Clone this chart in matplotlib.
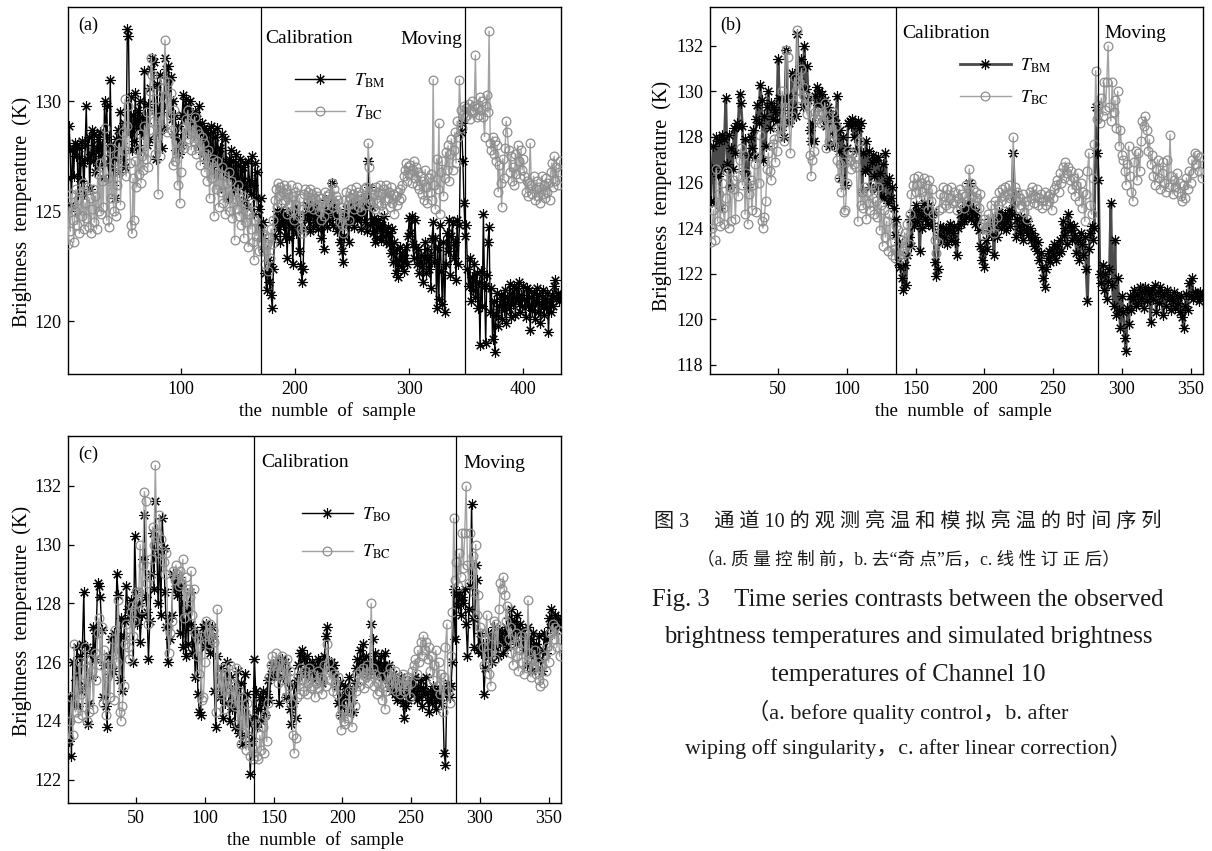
import matplotlib
matplotlib.use("Agg")
import matplotlib.pyplot as plt
import matplotlib.transforms as mtransforms
import numpy as np

plt.rcParams['font.family'] = ['Liberation Serif', 'Noto Sans CJK SC']
plt.rcParams['mathtext.fontset'] = 'stix'

# ---------------- data: channel 10 brightness temperatures (K) ----------------
# (a) before quality control: observed (T_BM) and simulated (T_BC), 432 samples
tbm_a = [
    126.5, 128.9, 127.8, 125.3, 127.9, 126.6, 128.1, 127.5, 128.0, 125.0,
    127.9, 126.4, 128.2, 127.2, 125.8, 128.0, 129.8, 127.4, 128.4, 126.0,
    127.6, 128.7, 127.3, 128.5, 126.8, 127.9, 128.3, 127.1, 128.6, 127.5,
    128.0, 126.5, 130.0, 128.4, 129.8, 127.2, 126.4, 131.0, 128.0, 126.2,
    127.8, 125.6, 128.3, 127.4, 128.7, 126.8, 129.5, 128.1, 127.4, 129.0,
    127.0, 128.6, 133.3, 133.0, 128.6, 130.2, 127.8, 129.4, 128.2, 130.4,
    127.9, 129.6, 128.8, 130.0, 127.8, 129.3, 128.5, 131.4, 129.0, 128.0,
    129.9, 128.3, 130.6, 131.5, 132.0, 131.8, 129.6, 127.4, 130.8, 128.5,
    129.6, 131.2, 127.9, 130.3, 128.8, 132.0, 131.5, 129.8, 131.6, 129.5,
    131.1, 129.2, 130.0, 128.5, 129.4, 127.8, 128.9, 127.6, 128.3, 128.0,
    129.4, 130.3, 129.2, 130.1, 128.6, 129.7, 129.1, 130.0, 128.7, 129.4,
    128.6, 129.5, 128.4, 129.2, 128.0, 129.8, 128.5, 129.0, 127.6, 128.8,
    127.9, 128.7, 127.2, 128.5, 127.5, 128.9, 127.0, 128.6, 126.8, 128.4,
    127.3, 128.8, 126.5, 127.9, 126.9, 128.5, 127.2, 126.0, 128.3, 127.0,
    125.6, 127.4, 126.6, 127.8, 125.9, 127.3, 126.2, 127.6, 126.0, 127.1,
    125.4, 127.4, 126.3, 127.0, 125.5, 127.2, 126.1, 125.2, 127.3, 126.4,
    125.8, 127.5, 126.2, 124.9, 127.2, 125.6, 126.8, 125.1, 124.3, 125.6,
    123.8, 124.5, 123.3, 122.2, 121.4, 122.8, 121.8, 122.6, 121.2, 120.6,
    122.4, 123.9, 124.6, 125.0, 124.2, 124.8, 123.6, 125.1, 124.4, 124.9,
    123.9, 124.7, 122.9, 124.5, 123.8, 125.0, 124.3, 122.6, 124.6, 125.2,
    124.0, 124.8, 123.2, 124.4, 122.5, 121.8, 122.4, 124.2, 124.9, 125.3,
    124.6, 125.1, 124.1, 124.9, 125.4, 124.3, 125.0, 124.5, 125.3, 124.2,
    124.8, 125.1, 123.8, 124.6, 123.3, 124.9, 125.5, 124.3, 125.0, 124.6,
    125.2, 126.3, 124.4, 125.4, 124.8, 125.0, 124.1, 124.9, 123.6, 124.5,
    123.2, 122.7, 123.9, 124.8, 125.1, 124.4, 123.6, 124.9, 125.3, 124.7,
    125.0, 124.3, 125.2, 124.6, 125.4, 124.8, 125.1, 124.2, 124.9, 125.3,
    124.5, 125.7, 124.1, 127.3, 126.1, 124.4, 125.2, 124.0, 124.7, 123.6,
    124.5, 123.8, 124.6, 124.2, 123.7, 124.4, 123.9, 124.8, 124.1, 123.6,
    124.3, 123.5, 124.0, 123.1, 124.2, 122.7, 123.6, 122.2, 123.3, 122.0,
    122.8, 123.4, 122.5, 123.1, 122.3, 122.9, 123.4, 122.6, 123.9, 124.7,
    124.0, 124.8, 123.5, 122.9, 124.6, 123.4, 122.6, 123.3, 122.2, 123.0,
    122.5, 121.8, 122.9, 123.6, 122.2, 123.3, 122.4, 123.0, 121.5, 123.8,
    124.5, 122.7, 123.8, 120.6, 123.4, 121.0, 124.4, 122.3, 120.8, 123.6,
    120.4, 122.6, 124.0, 123.2, 124.6, 122.1, 123.9, 124.5, 122.9, 123.6,
    121.9, 124.6, 122.6, 124.4, 128.6, 129.0, 127.3, 125.4, 123.9, 124.4,
    122.4, 121.6, 122.9, 120.9, 122.0, 121.4, 122.6, 121.1, 122.2, 120.6,
    121.8, 118.9, 122.3, 120.7, 124.9, 121.6, 119.0, 122.1, 123.6, 124.3,
    120.4, 121.5, 119.2, 120.9, 118.6, 120.3, 121.3, 119.8, 120.7, 121.2,
    120.1, 121.0, 120.5, 121.4, 119.9, 121.1, 120.6, 121.7, 120.2, 121.3,
    120.8, 121.6, 120.3, 121.5, 120.9, 121.8, 120.4, 121.2, 120.7, 121.6,
    121.0, 120.2, 121.5, 120.7, 121.4, 119.6, 121.1, 120.5, 121.3, 120.1,
    120.9, 121.5, 120.4, 121.2, 119.9, 120.8, 121.4, 120.3, 121.0, 120.6,
    121.3, 119.5, 120.9, 120.4, 121.2, 120.7, 121.6, 121.9, 121.0, 121.3,
    120.9, 121.1,
]
tbc_a = [
    123.5, 125.2, 124.1, 125.8, 124.6, 123.6, 125.0, 126.0, 124.4, 125.5,
    124.0, 125.9, 124.8, 126.3, 124.2, 125.4, 124.7, 126.1, 124.3, 125.6,
    124.0, 125.1, 126.0, 124.5, 125.7, 124.2, 126.7, 125.0, 127.2, 124.9,
    126.4, 125.2, 128.8, 127.4, 124.6, 126.5, 124.3, 127.9, 125.6, 126.8,
    125.0, 127.3, 124.8, 126.2, 127.6, 128.1, 125.3, 126.9, 128.6, 127.8,
    130.1, 126.6, 128.9, 129.8, 127.2, 124.4, 124.0, 126.5, 124.6, 127.3,
    126.1, 127.8, 126.7, 128.5, 126.3, 127.5, 126.9, 128.9, 127.4, 129.5,
    127.0, 128.7, 130.5, 132.0, 131.2, 129.1, 127.6, 130.1, 128.4, 125.8,
    129.3, 127.5, 130.6, 128.8, 131.0, 132.8, 130.2, 128.6, 130.9, 129.4,
    130.4, 128.7, 127.1, 129.6, 127.3, 128.2, 126.2, 127.8, 125.4, 126.8,
    128.0, 128.8, 127.9, 129.2, 128.5, 129.6, 128.3, 129.0, 127.8, 128.9,
    128.2, 129.3, 127.6, 128.7, 127.9, 128.5, 127.1, 128.4, 127.5, 128.1,
    126.8, 127.6, 126.4, 127.8, 125.6, 127.2, 126.5, 127.4, 124.8, 126.9,
    126.0, 127.3, 125.2, 126.7, 125.9, 127.0, 125.4, 126.6, 124.9, 126.3,
    125.6, 126.8, 125.0, 126.4, 124.7, 125.8, 123.7, 125.9, 125.1, 126.2,
    124.8, 125.6, 124.4, 125.7, 123.8, 125.3, 124.5, 125.0, 123.4, 124.9,
    124.2, 125.4, 123.6, 122.8, 124.6, 123.9, 124.8, 123.2, 124.3, 123.6,
    124.0, 123.2, 123.9, 122.6, 123.5, 122.3, 123.8, 122.9, 124.2, 123.5,
    124.6, 125.5, 126.0, 125.2, 126.3, 125.7, 126.1, 125.4, 125.9, 126.2,
    125.5, 126.0, 124.9, 125.8, 125.3, 126.2, 125.0, 125.7, 124.6, 125.9,
    125.3, 126.1, 124.8, 125.6, 124.2, 124.0, 125.1, 125.8, 126.0, 125.4,
    125.9, 125.2, 126.0, 125.5, 125.8, 125.1, 125.6, 125.9, 125.3, 125.7,
    125.0, 125.6, 124.6, 125.4, 124.8, 125.9, 125.3, 125.7, 125.1, 125.8,
    125.5, 126.3, 125.2, 126.0, 125.4, 125.7, 124.9, 125.5, 124.5, 125.2,
    124.4, 124.0, 124.8, 125.5, 125.9, 125.3, 124.6, 125.6, 126.0, 125.4,
    125.8, 125.1, 126.1, 125.5, 125.9, 125.2, 125.7, 125.0, 125.6, 126.0,
    125.3, 126.1, 125.6, 128.1, 127.0, 125.4, 126.0, 125.2, 125.8, 125.1,
    126.1, 125.4, 125.9, 126.2, 125.3, 125.8, 125.0, 126.0, 125.5, 126.2,
    125.6, 125.9, 125.2, 126.1, 125.4, 125.8, 124.9, 125.7, 125.3, 125.9,
    125.5, 126.0, 125.6, 126.2, 126.6, 126.9, 127.2, 126.4, 127.0, 126.7,
    127.1, 126.3, 126.9, 127.3, 126.5, 127.0, 126.2, 126.8, 126.0, 126.6,
    125.8, 126.4, 125.5, 126.9, 126.1, 125.4, 126.5, 125.9, 126.7, 125.5,
    131.0, 126.2, 125.1, 127.4, 126.0, 129.0, 124.9, 126.8, 127.3, 125.7,
    126.5, 127.7, 126.9, 128.0, 126.4, 127.6, 128.3, 126.9, 127.8, 128.6,
    127.2, 129.1, 128.4, 131.0, 129.6, 128.8, 129.4, 129.8, 129.3, 129.7,
    129.4, 129.9, 129.2, 129.6, 130.0, 129.5, 129.8, 132.1, 129.3, 129.7,
    129.4, 130.2, 129.6, 130.0, 129.3, 128.4, 129.8, 130.3, 129.5, 133.2,
    128.1, 127.8, 128.4, 127.6, 128.2, 127.3, 128.0, 125.9, 127.1, 126.3,
    125.2, 127.4, 126.5, 127.9, 129.1, 128.6, 127.8, 126.8, 127.5, 126.4,
    127.0, 126.2, 127.6, 126.7, 128.0, 127.3, 126.5, 127.8, 126.9, 127.4,
    126.6, 125.9, 126.4, 125.7, 126.3, 128.1, 126.2, 125.8, 126.6, 125.5,
    126.0, 126.4, 125.7, 126.1, 125.4, 126.6, 125.8, 126.2, 125.6, 126.5,
    125.9, 126.3, 125.5, 126.8, 127.2, 126.1, 127.5, 126.4, 127.0, 126.2,
    126.8, 127.3,
]

# (b) after removing singular points: observed T_BM, 358 samples
tbm_b = [
    125.2, 126.6, 127.6, 125.1, 128.0, 126.3, 127.8, 124.9, 128.1, 126.6,
    127.9, 129.7, 126.8, 128.1, 125.8, 127.5, 126.6, 128.4, 127.3, 128.6,
    128.5, 129.9, 129.5, 128.5, 126.5, 127.9, 126.3, 125.8, 127.2, 128.0,
    127.5, 128.3, 127.1, 128.8, 129.4, 128.6, 130.3, 129.6, 127.0, 128.9,
    127.6, 129.3, 130.0, 128.4, 129.5, 128.8, 129.3, 129.1, 128.7, 131.4,
    129.7, 128.3, 129.2, 128.0, 129.6, 131.8, 129.8, 128.6, 128.8, 130.8,
    129.3, 130.6, 128.9, 132.5, 131.0, 130.4, 131.4, 129.3, 132.0, 130.1,
    131.1, 129.6, 128.3, 127.8, 128.6, 127.8, 129.8, 130.2, 129.4, 130.0,
    129.5, 129.9, 128.8, 129.6, 128.5, 129.3, 127.6, 129.0, 128.2, 128.9,
    127.7, 128.6, 129.8, 127.4, 128.3, 126.2, 128.0, 127.0, 125.9, 127.5,
    128.6, 128.7, 128.5, 128.8, 128.0, 128.6, 127.4, 128.7, 128.4, 128.6,
    125.6, 127.3, 126.5, 127.8, 126.6, 127.4, 125.8, 126.9, 127.2, 126.3,
    127.0, 125.7, 127.1, 126.4, 125.4, 126.8, 125.3, 127.3, 126.0, 125.1,
    126.2, 125.3, 125.8, 124.9, 123.7, 124.4, 122.5, 123.4, 122.3, 121.8,
    121.3, 122.4, 121.5, 122.8, 123.6, 124.4, 123.2, 124.7, 124.1, 125.0,
    124.3, 124.8, 123.0, 124.6, 124.0, 125.1, 124.4, 124.8, 124.2, 125.0,
    124.5, 124.1, 124.7, 122.5, 121.9, 122.2, 123.7, 124.1, 123.4, 124.0,
    123.6, 124.0, 123.3, 123.9, 124.2, 123.5, 123.8, 124.1, 123.4, 122.8,
    124.0, 124.6, 124.2, 124.8, 124.3, 125.0, 124.5, 124.9, 126.0, 124.4,
    124.7, 124.9, 124.2, 124.7, 124.4, 123.9, 123.2, 122.6, 123.0, 122.3,
    123.5, 123.1, 124.0, 124.4, 123.7, 124.2, 122.8, 124.5, 123.6, 124.3,
    124.7, 124.0, 124.5, 124.2, 124.6, 123.9, 124.4, 124.8, 124.1, 124.6,
    127.3, 125.5, 123.6, 124.4, 124.1, 123.8, 124.5, 123.5, 124.2, 123.9,
    124.3, 123.7, 124.0, 123.5, 123.8, 123.2, 123.6, 123.0, 123.4, 122.6,
    122.9, 122.3, 121.8, 121.4, 122.2, 122.7, 123.0, 122.5, 123.1, 122.8,
    123.3, 122.6, 123.2, 122.9, 123.5, 123.0, 124.3, 123.7, 124.0, 123.3,
    124.6, 124.2, 123.9, 123.5, 124.1, 123.7, 122.9, 123.5, 122.6, 123.8,
    123.3, 122.8, 123.6, 122.2, 120.8, 123.1, 123.8, 124.1, 123.5, 124.0,
    129.3, 127.3, 126.1, 122.0, 121.6, 122.4, 121.3, 122.0, 120.9, 121.7,
    122.2, 125.1, 121.5, 120.6, 123.5, 120.2, 121.8, 120.4, 119.6, 121.0,
    120.3, 119.2, 118.6, 120.5, 119.8, 121.0, 120.4, 120.9, 121.3, 120.6,
    121.1, 120.7, 121.4, 120.9, 121.2, 120.5, 121.4, 120.8, 121.3, 121.1,
    119.9, 121.3, 120.9, 121.5, 120.3, 121.2, 120.7, 121.4, 121.0, 120.2,
    121.1, 120.6, 121.3, 120.9, 121.0, 120.4, 120.8, 121.2, 120.5, 121.0,
    120.7, 120.3, 121.0, 120.1, 119.6, 120.6, 121.1, 120.4, 121.6, 121.0,
    121.8, 120.9, 121.2, 121.1, 121.0, 120.8, 121.2, 121.0,
]

# (b) and (c) simulated T_BC, 358 samples
tbc_bc = [
    123.4, 124.0, 124.8, 123.5, 126.6, 124.3, 125.5, 124.1, 126.0, 124.9,
    124.2, 125.3, 126.5, 124.0, 125.8, 124.3, 126.1, 125.7, 124.4, 126.3,
    125.4, 127.0, 127.5, 125.9, 127.2, 124.6, 126.4, 124.2, 125.5, 126.1,
    124.8, 125.9, 126.8, 124.7, 127.1, 126.0, 128.1, 124.3, 124.0, 124.5,
    125.2, 126.6, 127.3, 126.5, 126.1, 127.7, 127.9, 126.9, 127.4, 128.4,
    128.0, 128.4, 130.0, 127.8, 129.3, 131.8, 131.5, 128.7, 127.3, 128.9,
    129.5, 130.6, 130.0, 132.7, 130.4, 129.7, 131.0, 130.2, 129.8, 129.4,
    129.0, 129.7, 127.2, 126.3, 127.0, 127.4, 129.1, 128.8, 129.3, 129.0,
    128.6, 129.1, 128.7, 129.5, 127.5, 128.9, 127.8, 128.5, 128.2, 129.1,
    127.6, 128.5, 127.0, 126.2, 126.8, 125.6, 126.9, 124.7, 124.8, 126.0,
    127.4, 127.0, 126.6, 127.3, 126.8, 127.1, 126.7, 124.3, 127.8, 125.0,
    125.6, 124.9, 125.8, 124.4, 125.6, 125.1, 124.8, 125.9, 125.3, 124.6,
    125.2, 124.5, 125.8, 123.9, 125.0, 123.2, 124.8, 123.6, 124.3, 123.0,
    124.6, 123.4, 122.8, 123.1, 122.7, 124.1, 123.9, 122.8, 122.7, 123.5,
    123.0, 123.8, 122.9, 124.2, 123.3, 124.6, 125.5, 125.9, 126.2, 125.6,
    125.9, 126.3, 125.3, 126.0, 125.6, 126.2, 125.4, 125.9, 124.8, 126.1,
    125.2, 125.7, 124.6, 123.5, 122.9, 123.4, 124.8, 125.5, 124.9, 125.8,
    125.4, 125.0, 125.7, 124.9, 125.3, 125.8, 125.1, 125.6, 125.2, 124.8,
    125.3, 125.7, 125.1, 125.5, 124.9, 125.4, 125.9, 125.2, 126.6, 126.0,
    125.4, 125.7, 125.0, 125.6, 125.3, 124.9, 125.5, 124.2, 123.7, 124.4,
    124.0, 123.9, 124.6, 124.1, 125.0, 124.3, 123.8, 125.2, 124.5, 125.0,
    125.6, 125.2, 125.7, 125.4, 125.8, 125.1, 125.5, 125.9, 125.3, 125.6,
    128.0, 125.8, 125.2, 125.6, 124.9, 125.3, 125.0, 125.5, 124.7, 125.2,
    124.4, 125.0, 125.6, 125.3, 125.8, 125.1, 125.4, 125.7, 125.0, 125.3,
    125.5, 124.9, 125.2, 125.6, 125.0, 125.4, 125.2, 125.5, 124.8, 125.3,
    125.7, 125.9, 126.1, 125.6, 126.4, 126.0, 126.7, 126.2, 126.9, 126.4,
    126.7, 126.1, 126.5, 125.7, 126.2, 125.4, 125.9, 126.4, 125.2, 126.0,
    124.9, 125.6, 124.3, 125.5, 126.5, 127.3, 125.0, 124.6, 126.2, 127.7,
    130.9, 128.8, 129.4, 128.6, 129.7, 128.9, 130.4, 129.2, 130.4, 132.0,
    129.3, 128.7, 130.4, 129.1, 129.6, 128.4, 130.0, 127.6, 128.3, 127.2,
    127.0, 126.5, 125.9, 126.8, 127.6, 126.3, 125.6, 125.2, 126.9, 127.4,
    126.1, 127.3, 126.5, 127.8, 128.7, 128.5, 128.9, 128.3, 127.4, 127.9,
    126.8, 127.2, 126.3, 125.9, 126.6, 127.0, 126.2, 125.7, 126.4, 126.9,
    126.0, 125.6, 127.0, 125.8, 128.1, 126.3, 125.5, 126.1, 125.8, 126.4,
    125.6, 126.0, 125.4, 125.2, 125.9, 125.3, 126.2, 125.7, 126.5, 126.0,
    127.0, 126.4, 127.3, 126.8, 127.2, 126.5, 127.1, 126.2,
]

# (c) after linear correction: observed T_BO, 358 samples
tbo_c = [
    123.3, 124.8, 122.8, 126.0, 124.6, 125.4, 126.5, 124.5, 126.2, 125.0,
    126.6, 128.4, 125.2, 126.5, 123.9, 124.6, 126.3, 125.5, 127.2, 126.1,
    127.0, 128.7, 128.6, 128.2, 127.1, 124.8, 125.9, 124.5, 123.8, 126.2,
    125.6, 126.8, 125.7, 127.0, 126.4, 129.0, 128.3, 125.4, 127.5, 125.0,
    126.9, 127.4, 128.6, 127.8, 127.6, 128.1, 127.5, 126.0, 130.3, 128.4,
    127.3, 128.0, 126.7, 127.6, 129.5, 131.0, 128.2, 127.7, 126.1, 127.4,
    129.0, 130.4, 128.5, 131.5, 130.2, 128.0, 129.8, 127.6, 130.9, 129.9,
    128.4, 127.2, 126.0, 127.5, 126.8, 127.6, 129.0, 128.5, 128.8, 128.3,
    128.9, 127.0, 128.6, 126.5, 128.0, 126.2, 127.8, 126.6, 128.4, 127.3,
    126.3, 127.1, 125.5, 126.9, 124.9, 124.3, 124.2, 126.8, 127.2, 126.5,
    127.3, 126.6, 127.0, 126.3, 127.2, 126.9, 125.0, 123.8, 126.2, 125.4,
    124.8, 125.8, 124.1, 125.4, 124.6, 126.0, 125.2, 124.0, 125.5, 124.4,
    125.1, 123.8, 124.9, 125.7, 123.6, 125.3, 123.2, 124.6, 125.6, 123.5,
    124.9, 123.9, 122.2, 123.3, 124.1, 126.1, 125.0, 123.8, 124.4, 124.8,
    124.0, 125.0, 124.6, 124.2, 124.9, 125.4, 124.7, 125.6, 125.9, 125.5,
    126.0, 125.7, 125.9, 124.6, 125.8, 126.1, 125.5, 126.0, 124.8, 125.7,
    125.3, 124.4, 123.9, 124.6, 125.2, 124.1, 125.4, 125.9, 126.3, 125.6,
    126.4, 126.1, 125.7, 126.2, 125.5, 125.9, 125.6, 126.0, 125.4, 125.8,
    125.5, 126.1, 125.7, 126.0, 125.3, 125.8, 126.2, 126.9, 127.2, 126.0,
    125.8, 126.0, 125.7, 125.9, 125.5, 125.2, 124.6, 125.3, 124.2, 124.8,
    124.5, 125.2, 124.9, 124.4, 125.5, 125.0, 124.7, 124.3, 125.3, 125.8,
    126.1, 125.7, 126.4, 125.9, 126.6, 125.8, 126.2, 125.6, 126.0, 125.7,
    127.3, 126.8, 125.9, 126.3, 125.6, 126.0, 125.8, 126.2, 125.5, 125.9,
    126.3, 125.7, 125.4, 125.9, 125.2, 125.0, 125.6, 124.9, 125.4, 124.7,
    125.2, 124.8, 125.5, 124.6, 124.1, 124.5, 125.0, 124.7, 125.3, 125.0,
    125.4, 124.9, 125.5, 124.7, 125.2, 124.8, 125.4, 124.5, 125.1, 124.9,
    125.5, 124.7, 124.3, 125.0, 124.6, 125.2, 124.8, 124.4, 125.0, 124.7,
    125.1, 124.6, 124.9, 122.9, 122.5, 125.0, 125.3, 124.8, 125.2, 126.0,
    128.5, 126.8, 128.3, 127.9, 128.4, 127.6, 128.2, 128.0, 128.5, 127.3,
    126.2, 127.8, 128.6, 131.4, 127.5, 126.5, 129.3, 128.8, 126.4, 127.0,
    126.3, 126.6, 124.9, 125.8, 126.4, 127.0, 126.2, 126.8, 126.0, 127.2,
    126.5, 126.9, 126.2, 127.1, 126.6, 127.0, 126.3, 126.8, 127.2, 126.5,
    127.5, 126.8, 127.8, 126.9, 127.4, 126.6, 127.6, 127.0, 127.3, 126.7,
    127.1, 126.4, 126.9, 125.9, 127.2, 126.3, 126.8, 125.7, 127.0, 126.2,
    126.6, 125.8, 126.9, 126.1, 125.7, 126.4, 127.0, 126.3, 126.8, 127.5,
    127.2, 127.8, 127.3, 127.0, 127.6, 127.2, 127.5, 127.3,
]

# sample index where the calibration and moving phases begin
phase_a = [170, 349]
phase_bc = [135.5, 282.5]

# ---------------- figure ----------------
W, H = 1212, 851
fig = plt.figure(figsize=(W / 100, H / 100), dpi=100)


def px_rect(left, top, right, bottom):
    return [left / W, 1 - bottom / H, (right - left) / W, (bottom - top) / H]


TICK_FS = 13
STAR = (8, 2, 0)


def draw_panel(rect, obs, sim, obs_label, tag, phases, xlim, ylim, xticks,
               yticks, obs_color, obs_lw, leg_xy, leg_space, cal_x, cal_y,
               mov_x, mov_y, xlab_x, ylab_x, ylab_y):
    ax = fig.add_axes(rect)
    x_obs = np.arange(1, len(obs) + 1)
    x_sim = np.arange(1, len(sim) + 1)
    ax.plot(x_obs, obs, color=obs_color, lw=obs_lw, marker=STAR, ms=7.5,
            mec='black', mew=0.8, label=obs_label, zorder=2)
    ax.plot(x_sim, sim, color='#a3a3a3', lw=1.0, marker='o', ms=6.3,
            mfc='none', mec='#8e8e8e', mew=0.9, label=r'$T_{\rm BC}$', zorder=3)
    for p in phases:
        ax.axvline(p, color='black', lw=0.9, zorder=4)
    ax.set_xlim(*xlim)
    ax.set_ylim(*ylim)
    ax.set_xticks(xticks)
    ax.set_yticks(yticks)
    ax.tick_params(direction='in', length=4, width=0.9, labelsize=TICK_FS,
                   top=False, right=False)
    ax.tick_params(axis='x', pad=5)
    ax.tick_params(axis='y', pad=5)
    for s in ax.spines.values():
        s.set_linewidth(1.0)
    ax.set_xlabel('the  numble  of  sample', fontsize=13.5)
    ax.xaxis.set_label_coords(xlab_x, -0.076)
    ax.set_ylabel('Brightness  temperature  (K)', fontsize=14.5)
    ax.yaxis.set_label_coords(ylab_x, ylab_y)
    ax.text(0.02, 0.95, tag, transform=ax.transAxes, fontsize=13,
            ha='left', va='center')
    blend = mtransforms.blended_transform_factory(ax.transData, ax.transAxes)
    ax.text(cal_x, cal_y, 'Calibration', transform=blend, fontsize=14,
            ha='left', va='center')
    ax.text(mov_x, mov_y, 'Moving', transform=blend, fontsize=14,
            ha='left', va='center')
    ax.legend(loc='upper left', bbox_to_anchor=leg_xy, frameon=False,
              fontsize=13, handlelength=2.8, handletextpad=0.5,
              labelspacing=leg_space, borderpad=0, borderaxespad=0)
    return ax


draw_panel(px_rect(68, 7, 561, 374), tbm_a, tbc_a, r'$T_{\rm BM}$', '(a)',
           phase_a, (1, 433), (117.6, 134.3), [100, 200, 300, 400],
           [120, 125, 130], 'black', 1.0, (0.46, 0.825), 0.75,
           174, 0.915, 292, 0.912, 0.527, -0.073, 0.441)

draw_panel(px_rect(710, 7, 1203, 374), tbm_b, tbc_bc, r'$T_{\rm BM}$', '(b)',
           phase_bc, (0.5, 359), (117.6, 133.7), list(range(50, 351, 50)),
           list(range(118, 133, 2)), '#4a4a4a', 2.0, (0.507, 0.865), 0.75,
           140, 0.929, 287, 0.929, 0.514, -0.077, 0.485)

draw_panel(px_rect(68, 436, 561, 803), tbo_c, tbc_bc, r'$T_{\rm BO}$', '(c)',
           phase_bc, (0.5, 359), (121.2, 133.7), list(range(50, 351, 50)),
           list(range(122, 133, 2)), 'black', 1.0, (0.475, 0.81), 1.05,
           141, 0.929, 288, 0.926, 0.502, -0.073, 0.495)

# ---------------- caption ----------------
cx = 908 / W
cap = [
    ('图 3　 通 道 10 的 观 测 亮 温 和 模 拟 亮 温 的 时 间 序 列', 522, 14.5),
    ('（a. 质 量 控 制 前，b. 去“奇 点”后，c. 线 性 订 正 后）', 560, 12.7),
    ('Fig. 3    Time series contrasts between the observed', 600, 17.8),
    ('brightness temperatures and simulated brightness', 637, 17.8),
    ('temperatures of Channel 10', 675, 17.8),
    ('（a. before quality control，b. after', 712, 16),
    ('wiping off singularity，c. after linear correction）', 747, 15.8),
]
for txt, y, fs in cap:
    fig.text(cx, 1 - y / H, txt, ha='center', va='center', fontsize=fs,
             color='#1a1a1a')

fig.savefig('out.png', dpi=100)
